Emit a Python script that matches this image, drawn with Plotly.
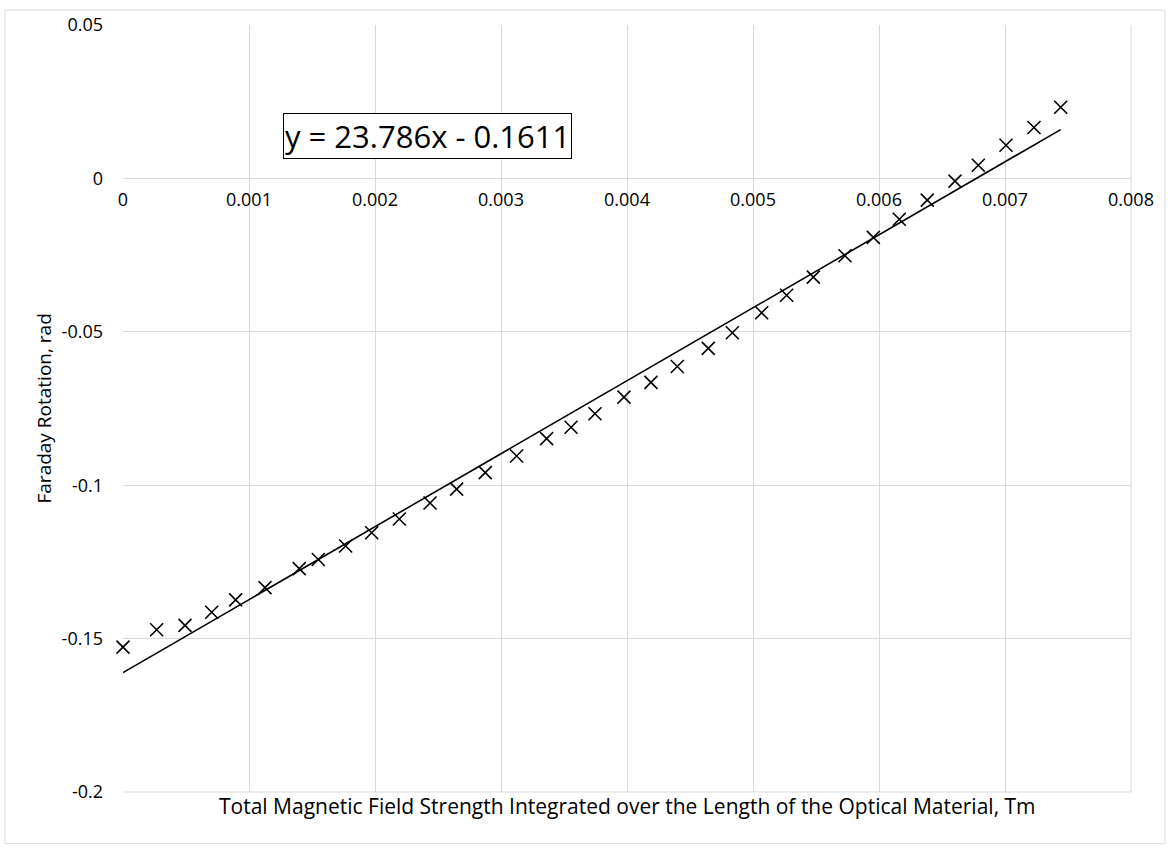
import plotly.graph_objects as go

# Data
x_vals = [0, 0.000267, 0.000492, 0.000704, 0.000894, 0.001127, 0.001399, 0.00155,
          0.001767, 0.001974, 0.002193, 0.002437, 0.002648, 0.002875, 0.003124,
          0.003362, 0.003556, 0.003746, 0.003976, 0.004190, 0.004399, 0.004645,
          0.004836, 0.005069, 0.005267, 0.005479, 0.005730, 0.005955, 0.006161,
          0.006383, 0.006603, 0.006788, 0.007008, 0.007230, 0.007442]
y_vals = [-0.1528, -0.1471, -0.1457, -0.1414, -0.1374, -0.1334, -0.1272, -0.1242,
          -0.1198, -0.1155, -0.1110, -0.1058, -0.1013, -0.0959, -0.0905,
          -0.0848, -0.0811, -0.0767, -0.0713, -0.0665, -0.0613, -0.0554,
          -0.0503, -0.0438, -0.0381, -0.0322, -0.0252, -0.0192, -0.0133,
          -0.0071, -0.0009, 0.0043, 0.0108, 0.0166, 0.0232]

slope = 23.786
intercept = -0.1611
equation_text = "y = 23.786x - 0.1611"

x_tickvals = [0, 0.001, 0.002, 0.003, 0.004, 0.005, 0.006, 0.007, 0.008]
x_ticktext = ["0", "0.001", "0.002", "0.003", "0.004", "0.005", "0.006", "0.007", "0.008"]
y_tickvals = [0.05, 0, -0.05, -0.1, -0.15, -0.2]
y_ticktext = ["0.05", "0", "-0.05", "-0.1", "-0.15", "-0.2"]

x_title = "Total Magnetic Field Strength Integrated over the Length of the Optical Material, Tm"
y_title = "Faraday Rotation, rad"

FONT = "Open Sans"
GRID = "#d9d9d9"

trend_x = [min(x_vals), max(x_vals)]
trend_y = [slope * v + intercept for v in trend_x]

fig = go.Figure()
fig.add_trace(go.Scatter(x=trend_x, y=trend_y, mode="lines",
                         line=dict(color="black", width=1.6),
                         showlegend=False, hoverinfo="skip"))
fig.add_trace(go.Scatter(x=x_vals, y=y_vals, mode="markers", cliponaxis=False,
                         marker=dict(symbol="x-thin-open", size=13, color="black",
                                     line=dict(color="black", width=1.6)),
                         showlegend=False))

plot_l, plot_r, plot_t, plot_b = 123, 1131, 20, 792
W, H = 1170, 848
pw, ph = plot_r - plot_l, plot_b - plot_t
y0_frac = (0 - (-0.2)) / 0.25

fig.update_layout(
    width=W, height=H,
    margin=dict(l=plot_l, r=W - plot_r, t=plot_t, b=H - plot_b, pad=0),
    paper_bgcolor="white", plot_bgcolor="white",
    font=dict(family=FONT, color="black", size=18),
    xaxis=dict(range=[0, 0.008], tickvals=x_tickvals, ticktext=x_ticktext,
               showgrid=True, gridcolor=GRID, gridwidth=1,
               zeroline=False, showline=False, ticks="",
               anchor="free", position=y0_frac, side="bottom",
               ticklabelstandoff=9, tickfont=dict(size=18, family=FONT)),
    yaxis=dict(range=[-0.2, 0.05], tickvals=y_tickvals, ticktext=y_ticktext,
               showgrid=True, gridcolor=GRID, gridwidth=1,
               zeroline=False, showline=False, ticks="",
               ticklabelstandoff=19, tickfont=dict(size=18, family=FONT)),
    shapes=[
        dict(type="rect", xref="paper", yref="paper",
             x0=(5 - plot_l) / pw, x1=(1165 - plot_l) / pw,
             y0=(plot_b - 844) / ph, y1=(plot_b - 5) / ph,
             line=dict(color=GRID, width=1), fillcolor="rgba(0,0,0,0)", layer="below"),
        dict(type="line", xref="paper", yref="paper", x0=0, x1=1, y0=0, y1=0,
             line=dict(color=GRID, width=1), layer="below"),
        dict(type="line", xref="paper", yref="paper", x0=1, x1=1, y0=0, y1=1,
             line=dict(color=GRID, width=1), layer="below"),
    ],
    annotations=[
        dict(text=equation_text, x=0.00242, y=0.0139, xref="x", yref="y",
             showarrow=False, font=dict(size=31, family=FONT, color="black"),
             bordercolor="black", borderwidth=1, borderpad=1, bgcolor="white"),
        dict(text=x_title, xref="paper", yref="paper", x=0.5, y=(plot_b - 806) / ph,
             showarrow=False, font=dict(size=21, family=FONT), yanchor="middle"),
        dict(text=y_title, xref="paper", yref="paper", x=(43 - plot_l) / pw, y=0.5,
             showarrow=False, textangle=-90, font=dict(size=19, family=FONT),
             xanchor="center", yanchor="middle"),
    ],
)

fig.write_html("out.html")
